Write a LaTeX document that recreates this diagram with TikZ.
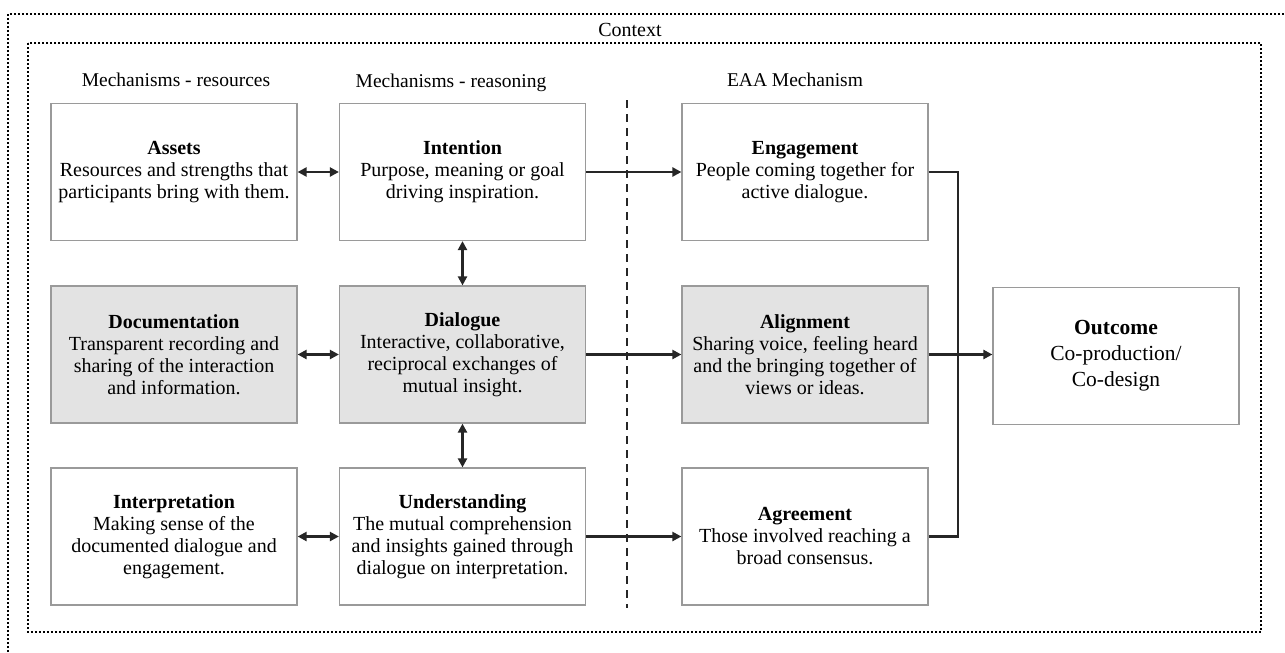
\documentclass[tikz,border=0pt]{standalone}
\usepackage{fontspec}
\setmainfont{Liberation Serif}
\usetikzlibrary{arrows.meta}
\definecolor{boxgray}{HTML}{9A9A9A}
\definecolor{shadegray}{HTML}{E3E3E3}
\definecolor{linecol}{HTML}{262626}
\tikzset{
 box/.style={draw=boxgray, line width=1.2pt, fill=white, minimum width=246pt, minimum height=137pt, align=center, inner sep=0pt, font=\fontsize{20}{22}\selectfont, text=black},
 shaded/.style={box, fill=shadegray},
 bigbox/.style={box, font=\fontsize{21.5}{26}\selectfont},
 conn/.style={line width=2.5pt, draw=linecol},
 arr/.style={conn, -{Triangle[length=9pt,width=9pt]}},
 darr/.style={conn, {Triangle[length=9pt,width=9pt]}-{Triangle[length=9pt,width=9pt]}},
 hdr/.style={font=\fontsize{19.5}{22}\selectfont, inner sep=0pt, text=black},
 ctx/.style={line width=2.5pt, dash pattern=on 2pt off 2pt, draw=black},
 sep/.style={line width=2.5pt, dash pattern=on 8pt off 6pt, draw=linecol}
}
\begin{document}
\begin{tikzpicture}[x=1pt,y=-1pt]
\useasboundingbox (0,0) rectangle (1285,653);
\clip (0,0) rectangle (1285,653);
% context frames
\draw[ctx] (8,700) -- (8,14) -- (1300,14);
\draw[ctx] (28,43) rectangle (1261,632);
\node[hdr, font=\fontsize{20}{22}\selectfont] (context) at (630,30) {Context};
% headers
\node[hdr] (h1) at (176,80) {Mechanisms - resources};
\node[hdr] (h2) at (451,83) {Mechanisms - reasoning};
\node[hdr] (h3) at (795,80) {EAA Mechanism};
% separator
\coordinate (d1) at (627,100);
\coordinate (d2) at (627,608);
\draw[sep] (d1) -- (d2);
% boxes
\node[box] (assets) at (174,172) {\textbf{Assets}\\Resources and strengths that\\participants bring with them.};
\node[box] (intent) at (462.5,172) {\textbf{Intention}\\Purpose, meaning or goal\\driving inspiration.};
\node[box] (eng) at (805,172) {\textbf{Engagement}\\People coming together for\\active dialogue.};
\node[shaded] (doc) at (174,354.5) {\textbf{Documentation}\\Transparent recording and\\sharing of the interaction\\and information.};
\node[shaded] (dia) at (462.5,354.5) {\textbf{Dialogue}\\Interactive, collaborative,\\reciprocal exchanges of\\mutual insight.};
\node[shaded] (ali) at (805,354.5) {\textbf{Alignment}\\Sharing voice, feeling heard\\and the bringing together of\\views or ideas.};
\node[box] (interp) at (174,536.5) {\textbf{Interpretation}\\Making sense of the\\documented dialogue and\\engagement.};
\node[box] (under) at (462.5,536.5) {\textbf{Understanding}\\The mutual comprehension\\and insights gained through\\dialogue on interpretation.};
\node[box] (agr) at (805,536.5) {\textbf{Agreement}\\Those involved reaching a\\broad consensus.};
\node[bigbox] (out) at (1116,356) {\textbf{Outcome}\\Co-production/\\Co-design};
% connectors
\draw[darr] (assets.east) -- (intent.west);
\draw[darr] (doc.east) -- (dia.west);
\draw[darr] (interp.east) -- (under.west);
\draw[darr] (intent.south) -- (dia.north);
\draw[darr] (dia.south) -- (under.north);
\draw[arr] (intent.east) -- (eng.west);
\draw[arr] (dia.east) -- (ali.west);
\draw[arr] (under.east) -- (agr.west);
\coordinate (j1) at (958,172);
\coordinate (j2) at (958,536.5);
\draw[conn] (eng.east) -- (j1) -- (j2) -- (agr.east);
\draw[arr] (ali.east) -- (out.west |- ali.east);
\end{tikzpicture}
\end{document}
